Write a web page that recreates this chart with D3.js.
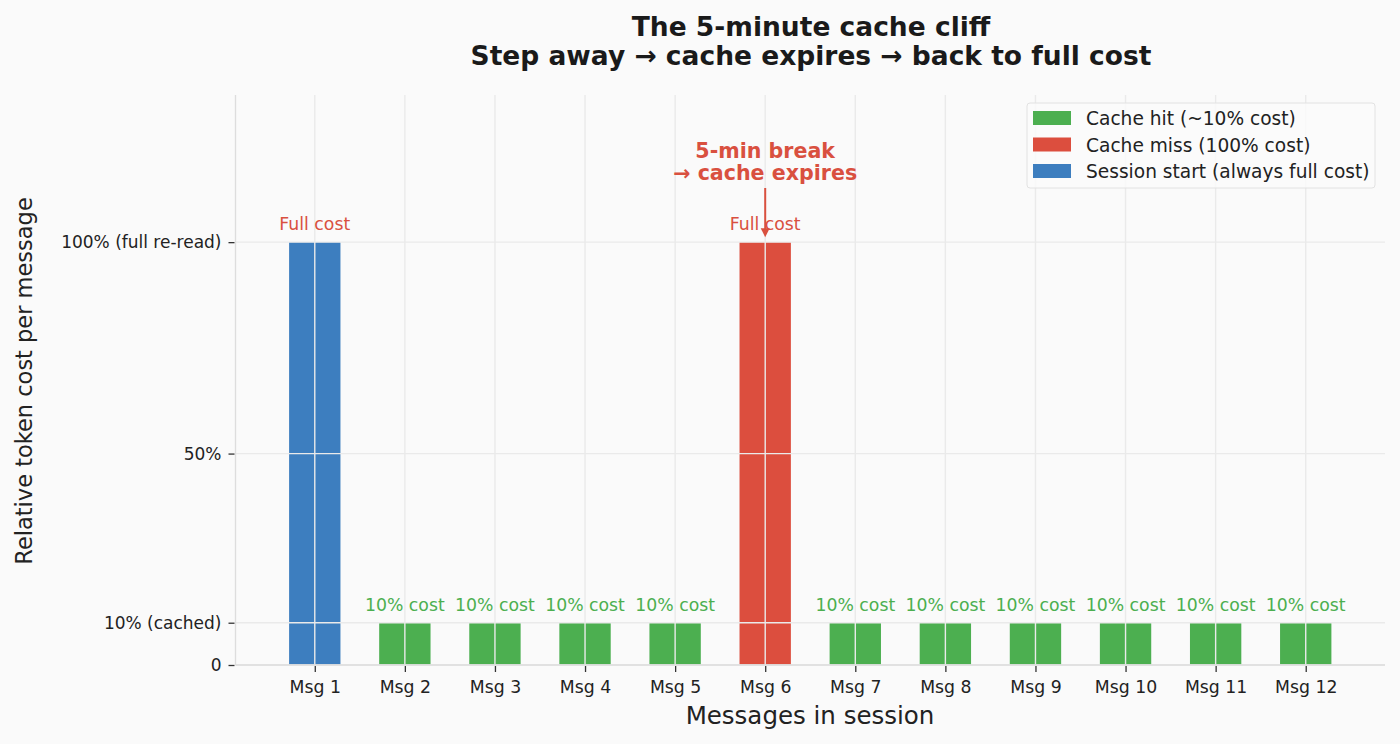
<!doctype html>
<html>
<head>
<script src="https://cdnjs.cloudflare.com/ajax/libs/d3/7.8.5/d3.min.js"></script>
<style>
body { margin: 0; background: #fafafa; }
svg { font-family: "DejaVu Sans", sans-serif; }
</style>
</head>
<body>
<svg id="chart" width="1400" height="744"></svg>
<script>
// data
var messages = ["Msg 1","Msg 2","Msg 3","Msg 4","Msg 5","Msg 6","Msg 7","Msg 8","Msg 9","Msg 10","Msg 11","Msg 12"];
var costs = [100, 10, 10, 10, 10, 100, 10, 10, 10, 10, 10, 10];
var kinds = ["start","hit","hit","hit","hit","miss","hit","hit","hit","hit","hit","hit"];
var barLabels = ["Full cost","10% cost","10% cost","10% cost","10% cost","Full cost","10% cost","10% cost","10% cost","10% cost","10% cost","10% cost"];
var yTicks = [0, 10, 50, 100];
var yTickLabels = ["0", "10% (cached)", "50%", "100% (full re-read)"];
var legendKeys = ["hit", "miss", "start"];
var legendLabels = ["Cache hit (~10% cost)", "Cache miss (100% cost)", "Session start (always full cost)"];

var colors = { hit: "#4caf50", miss: "#dc4e3e", start: "#3d7ebf" };
var labelColors = { hit: "#4caf50", miss: "#d9503f", start: "#d9503f" };

var svg = d3.select("#chart");
var pLeft = 235.5, pRight = 1385, pTop = 95, pBottom = 665;

var x = d3.scaleLinear().domain([-0.88, 11.88]).range([pLeft, pRight]);
var y = d3.scaleLinear().domain([0, 134.8]).range([pBottom, pTop]);
var barW = x(0.57) - x(0);

// bars
svg.append("g").selectAll("rect")
  .data(costs)
  .enter().append("rect")
  .attr("x", (d, i) => x(i) - barW / 2)
  .attr("y", d => y(d))
  .attr("width", barW)
  .attr("height", d => y(0) - y(d))
  .attr("fill", (d, i) => colors[kinds[i]]);

// grid over bars
var grid = svg.append("g").attr("stroke", "#eaeaea").attr("stroke-width", 1.4);
messages.forEach((m, i) => {
  grid.append("line").attr("x1", x(i)).attr("x2", x(i)).attr("y1", pTop).attr("y2", pBottom);
});
yTicks.forEach(t => {
  grid.append("line").attr("x1", pLeft).attr("x2", pRight).attr("y1", y(t)).attr("y2", y(t));
});

// spines
svg.append("line").attr("x1", pLeft).attr("x2", pLeft).attr("y1", pTop).attr("y2", pBottom)
  .attr("stroke", "#dddddd").attr("stroke-width", 1.3);
svg.append("line").attr("x1", pLeft).attr("x2", pRight).attr("y1", pBottom).attr("y2", pBottom)
  .attr("stroke", "#dddddd").attr("stroke-width", 1.3);

// y axis
var yAxis = d3.axisLeft(y).tickValues(yTicks)
  .tickFormat((d, i) => yTickLabels[i]).tickSize(6).tickPadding(7);
var yg = svg.append("g").attr("transform", "translate(" + (pLeft - 1) + ",0)").call(yAxis);
yg.select(".domain").remove();
yg.selectAll("line").attr("stroke", "#333").attr("stroke-width", 1.3);
yg.selectAll("text").attr("font-size", 17).attr("fill", "#222").attr("font-family", "DejaVu Sans");

// x axis
var xAxis = d3.axisBottom(x).tickValues(d3.range(messages.length))
  .tickFormat(i => messages[i]).tickSize(6).tickPadding(9);
var xg = svg.append("g").attr("transform", "translate(0," + (pBottom + 1) + ")").call(xAxis);
xg.select(".domain").remove();
xg.selectAll("line").attr("stroke", "#333").attr("stroke-width", 1.3);
xg.selectAll("text").attr("font-size", 17.3).attr("fill", "#222").attr("font-family", "DejaVu Sans");

// bar labels
svg.append("g").selectAll("text")
  .data(costs)
  .enter().append("text")
  .attr("x", (d, i) => x(i))
  .attr("y", d => y(d) - 12)
  .attr("text-anchor", "middle")
  .attr("font-size", 17.3)
  .attr("fill", (d, i) => labelColors[kinds[i]])
  .text((d, i) => barLabels[i]);

// annotation
var missIdx = kinds.indexOf("miss");
var ax = x(missIdx);
svg.append("text").attr("x", ax).attr("y", 158).attr("text-anchor", "middle")
  .attr("font-size", 20.6).attr("font-weight", "bold").attr("fill", "#d9503f").text("5-min break");
svg.append("text").attr("x", ax).attr("y", 180).attr("text-anchor", "middle")
  .attr("font-size", 20.6).attr("font-weight", "bold").attr("fill", "#d9503f").text("→ cache expires");
svg.append("line").attr("x1", ax).attr("x2", ax).attr("y1", 188).attr("y2", y(100) - 12)
  .attr("stroke", "#d9503f").attr("stroke-width", 2);
svg.append("path")
  .attr("d", "M" + (ax - 4.5) + "," + (y(100) - 14) + " L" + (ax + 4.5) + "," + (y(100) - 14) + " L" + ax + "," + (y(100) - 5) + " Z")
  .attr("fill", "#d9503f");

// titles
svg.append("text").attr("x", 811).attr("y", 36).attr("text-anchor", "middle")
  .attr("font-size", 26.5).attr("font-weight", "bold").attr("fill", "#1a1a1a").text("The 5-minute cache cliff");
svg.append("text").attr("x", 811).attr("y", 65).attr("text-anchor", "middle")
  .attr("font-size", 26.5).attr("font-weight", "bold").attr("fill", "#1a1a1a").text("Step away → cache expires → back to full cost");

svg.append("text").attr("x", 810).attr("y", 724).attr("text-anchor", "middle")
  .attr("font-size", 24.5).attr("fill", "#222").text("Messages in session");
svg.append("text").attr("transform", "translate(32,381) rotate(-90)").attr("text-anchor", "middle")
  .attr("font-size", 22.5).attr("fill", "#222").text("Relative token cost per message");

// legend
var lg = svg.append("g").attr("transform", "translate(1027,103)");
lg.append("rect").attr("width", 348).attr("height", 85).attr("rx", 3)
  .attr("fill", "#fafafa").attr("fill-opacity", 0.85).attr("stroke", "#e2e2e2");
legendKeys.forEach((k, i) => {
  lg.append("rect").attr("x", 6).attr("y", 8 + i * 26.5).attr("width", 38).attr("height", 14)
    .attr("fill", colors[k]);
  lg.append("text").attr("x", 59).attr("y", 22 + i * 26.5).attr("font-size", 18.6)
    .attr("fill", "#222").text(legendLabels[i]);
});
</script>
</body>
</html>
